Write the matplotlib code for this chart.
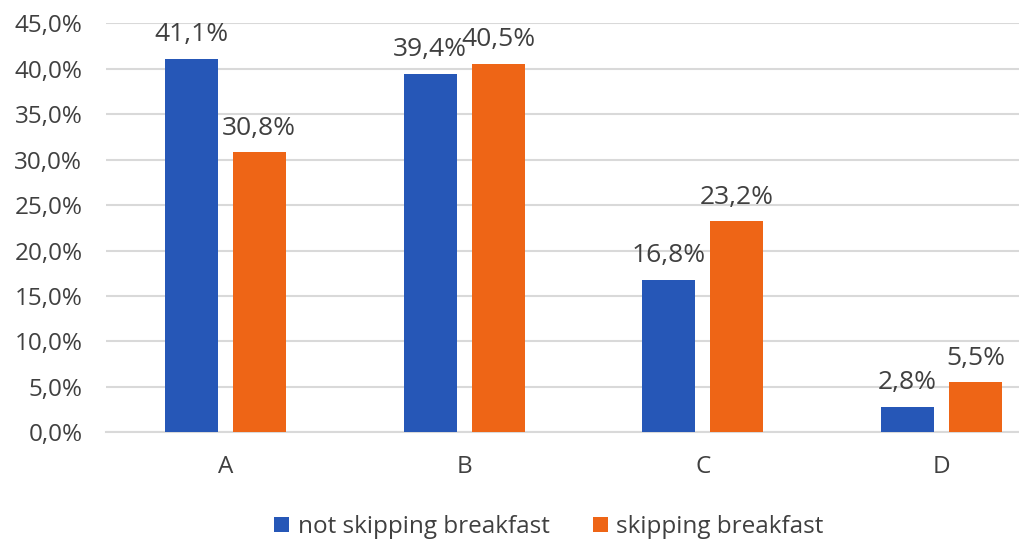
""" Breakfast habits bar chart """
import matplotlib.pyplot as plt
import numpy as np
from matplotlib.ticker import FuncFormatter

categories = ['A', 'B', 'C', 'D']
not_skipping = [41.1, 39.4, 16.8, 2.8]
skipping = [30.8, 40.5, 23.2, 5.5]
series_names = ['not skipping breakfast', 'skipping breakfast']

BLUE = '#2657b7'
ORANGE = '#ee6516'
TEXT = '#404040'


def pct(v):
    return '{:.1f}%'.format(v).replace('.', ',')


plt.rcParams['font.family'] = ['Open Sans', 'DejaVu Sans']

fig = plt.figure(figsize=(10.19, 5.42), dpi=100)
ax = fig.add_axes([106 / 1019, 1 - 432.3 / 542, 913 / 1019, 409 / 542])

x = np.arange(len(categories))
width = 0.222
offset = 0.142
bars1 = ax.bar(x - offset, not_skipping, width, color=BLUE, label=series_names[0], zorder=3)
bars2 = ax.bar(x + offset, skipping, width, color=ORANGE, label=series_names[1], zorder=3)

for bars, vals in ((bars1, not_skipping), (bars2, skipping)):
    for b, v in zip(bars, vals):
        ax.annotate(pct(v), (b.get_x() + b.get_width() / 2, v), xytext=(0, 8.5),
                    textcoords='offset points', ha='center', va='bottom',
                    fontsize=19, color=TEXT)

ax.set_ylim(0, 45)
ax.set_yticks(np.arange(0, 46, 5))
ax.yaxis.set_major_formatter(FuncFormatter(lambda v, _: pct(v)))
ax.set_xlim(-0.5, 3.324)
ax.set_xticks(x)
ax.set_xticklabels(categories)
ax.tick_params(length=0, labelsize=17.5, colors=TEXT)
ax.tick_params(axis='x', pad=16)
ax.tick_params(axis='y', pad=17)
ax.grid(axis='y', color='#d9d9d9', linewidth=1.5, zorder=0)
for s in ('left', 'right', 'top'):
    ax.spines[s].set_visible(False)
ax.spines['bottom'].set_color('#d9d9d9')
ax.spines['bottom'].set_linewidth(1.5)

fig.legend(loc='center', bbox_to_anchor=(549 / 1019, 1 - 527 / 542), ncol=2, frameon=False,
           fontsize=17.5, labelcolor=TEXT, handlelength=0.6, handleheight=0.6,
           handletextpad=0.35, columnspacing=1.8)

fig.savefig('out.png')
